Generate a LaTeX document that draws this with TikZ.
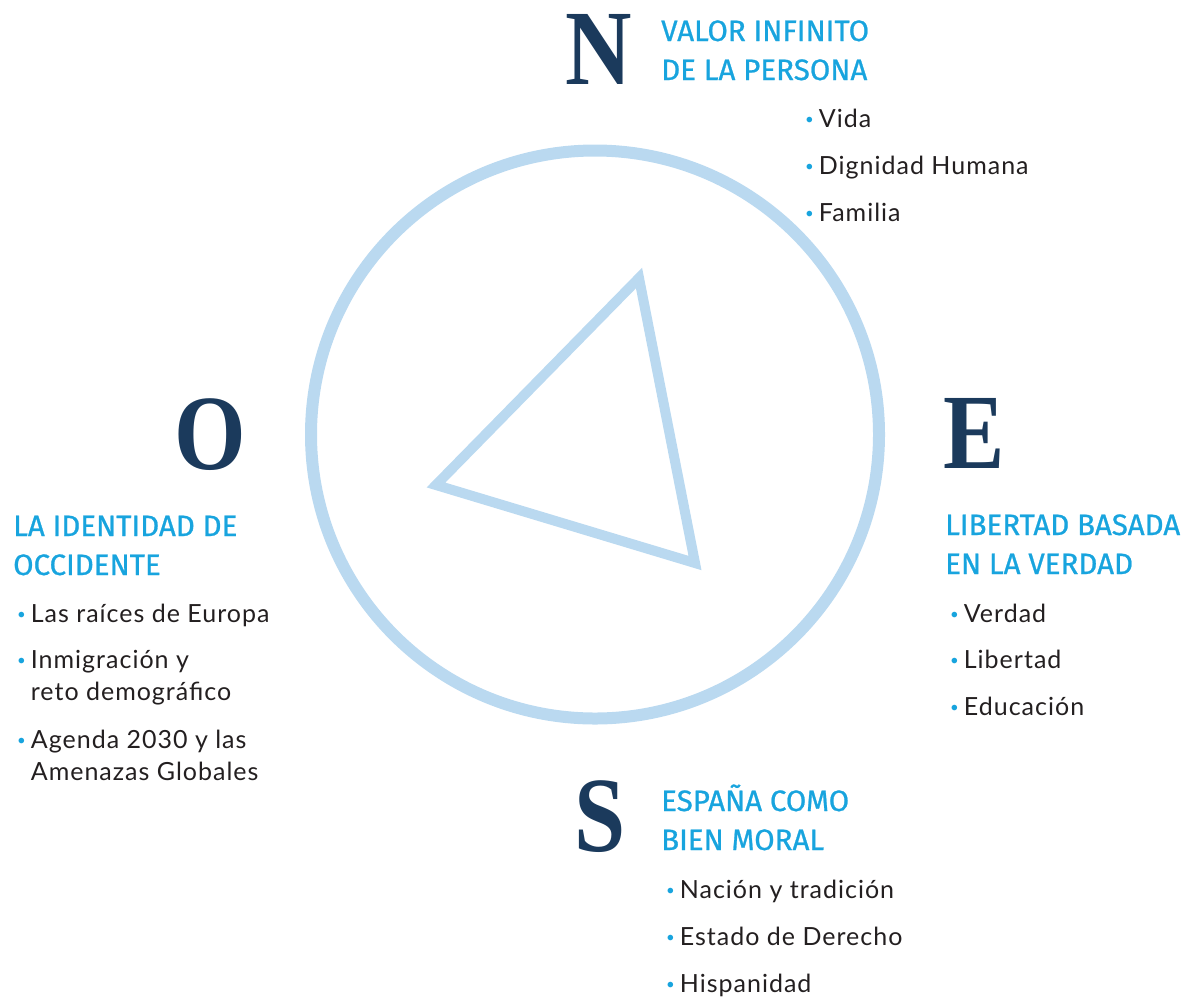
\documentclass[tikz,border=0pt]{standalone}
\usepackage{fontspec}
\usepackage{graphicx}
\setmainfont{Lato}[LetterSpace=4]
\newfontfamily\headfont{Fira Sans}[FakeBold=0.8]
\newfontfamily\letterfont{Liberation Serif}
\usetikzlibrary{positioning}

\definecolor{navy}{RGB}{27,58,92}
\definecolor{tblue}{RGB}{24,164,222}
\definecolor{ringblue}{RGB}{186,217,240}
\definecolor{ink}{RGB}{35,31,32}

\newcommand{\bul}{\textcolor{tblue}{\raisebox{.2ex}{\scalebox{.6}{\textbullet}}}\hspace{5pt}}
\newcommand{\nobul}{\hphantom{\bul}}
\newcommand{\cpt}[1]{\scalebox{0.86}[1]{#1}}

\tikzstyle{compass}=[anchor=base west,inner sep=0pt,text=navy,font=\letterfont\bfseries\fontsize{107}{107}\selectfont]
\tikzstyle{heading}=[anchor=base west,inner sep=0pt,align=left,text=tblue,font=\headfont\fontsize{29.5}{39}\selectfont]
\tikzstyle{item}=[anchor=base west,inner sep=0pt,align=left,text=ink,font=\fontsize{25}{32}\selectfont]
\tikzstyle{ring}=[draw=ringblue,line width=12pt]
\tikzstyle{tri}=[draw=ringblue,line width=10pt,line join=miter]

\begin{document}
\begin{tikzpicture}[x=1pt,y=-1pt]
        \useasboundingbox (0,0) rectangle (1190,997);

        \node[ring,circle,minimum size=568pt] (dial) at (595,434.5) {};
        \coordinate (tipA) at (639,278);
        \coordinate (tipB) at (436,485);
        \coordinate (tipC) at (695,563);
        \draw[tri] (tipA) -- (tipB) -- (tipC) -- cycle;

        \node[compass] (north) at (565,84)  {\cpt{N}};
        \node[heading] (valor) at (661,80)  {VALOR INFINITO\\DE LA PERSONA};
        \node[item] (vida)      at (805,127)                         {\bul Vida};
        \node (dignidad) [below=47pt of vida.base west, item]        {\bul Dignidad Humana};
        \node (familia)  [below=47pt of dignidad.base west, item]    {\bul Familia};

        \node[compass] (west) at (174,469)  {\cpt{O}};
        \node[heading] (identidad) at (13,575) {LA IDENTIDAD DE\\OCCIDENTE};
        \node[item] (raices)    at (17,622)                          {\bul Las raíces de Europa};
        \node (inmigracion) [below=78pt of raices.base west, item]  {\bul Inmigración y\\\nobul reto demográfico};
        \node (agenda) [below=80pt of inmigracion.base west, item]  {\bul Agenda 2030 y las\\\nobul Amenazas Globales};

        \node[compass] (east) at (943,468)  {\cpt{E}};
        \node[heading] (libertad) at (945,574) {LIBERTAD BASADA\\EN LA VERDAD};
        \node[item] (verdad)    at (950,622)                         {\bul Verdad};
        \node (libre)     [below=46pt of verdad.base west, item]     {\bul Libertad};
        \node (educacion) [below=47pt of libre.base west, item]      {\bul Educación};

        \node[compass] (south) at (574,851) {\cpt{S}};
        \node[heading] (espana) at (661,850) {ESPAÑA COMO\\BIEN MORAL};
        \node[item] (nacion)    at (666,898)                         {\bul Nación y tradición};
        \node (estado)     [below=47pt of nacion.base west, item]    {\bul Estado de Derecho};
        \node (hispanidad) [below=47pt of estado.base west, item]    {\bul Hispanidad};
\end{tikzpicture}
\end{document}
